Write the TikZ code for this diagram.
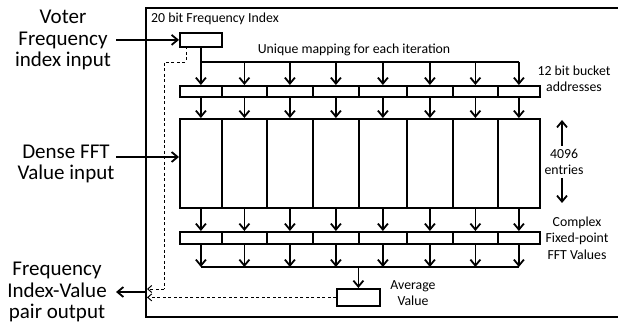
\documentclass[tikz,border=0pt]{standalone}
\usepackage{fontspec}
\setmainfont{Carlito}
\usetikzlibrary{arrows.meta}
\begin{document}
\begin{tikzpicture}[x=1pt,y=-1pt,
  solid line/.style={line width=1.8pt},
  arr/.style={solid line,-{Straight Barb[length=6pt,width=10pt,line width=1.8pt]}},
  darr/.style={line width=0.9pt,dash pattern=on 3pt off 2.5pt,-{Straight Barb[length=4pt,width=7pt,line width=1pt]}},
  dline/.style={line width=0.9pt,dash pattern=on 3pt off 2.5pt},
  cell/.style={draw,solid line,inner sep=0pt,minimum height=11pt,anchor=north west},
  big/.style={font=\fontsize{21}{21.5}\selectfont,align=center,inner sep=0pt},
  small/.style={font=\fontsize{13.8}{16.5}\selectfont,align=center,inner sep=0pt},
  side/.style={font=\fontsize{13.8}{16.5}\selectfont,align=center,inner sep=0pt}]
\useasboundingbox (0,0) rectangle (618,328);

% outer frame (its right side runs off the page edge)
\node[draw,solid line,inner sep=0pt,minimum width=473.3pt,minimum height=309pt,anchor=north west] (frame) at (145,7) {};

% index register
\node[cell,minimum width=42pt,minimum height=14pt] (idx) at (179,32) {};
\node[small,anchor=west] (idxlbl) at (151,19) {20 bit Frequency Index};
\node[small] (maplbl) at (354,50) {Unique mapping for each iteration};

% column boundaries
\def\xs{{179,221,266,312,358,406,452,497,539}}
\foreach \i in {0,...,7}{
  \pgfmathsetmacro\xa{\xs[\i]}
  \pgfmathsetmacro\xb{\xs[\i+1]}
  \pgfmathsetmacro\w{\xb-\xa}
  \node[cell,minimum width=\w pt] (addr\i) at (\xa,85) {};
  \node[cell,minimum width=\w pt,minimum height=89pt] (bank\i) at (\xa,118) {};
  \node[cell,minimum width=\w pt,minimum height=12pt] (val\i) at (\xa,231) {};
}

% top bus distributing the index
\coordinate (busL) at (addr0.north |- 0,62);
\coordinate (busR) at (addr7.north |- 0,62);
\draw[solid line] (idx.south -| busL) -- (busL) -- (busR);
\foreach \i in {0,...,7}{
  \draw[arr] (addr\i.north |- busL) -- (addr\i.north);
  \draw[arr] (addr\i.south) -- (bank\i.north);
  \draw[arr] (bank\i.south) -- (val\i.north);
}

% bottom bus collecting values
\coordinate (cbL) at (val0.south |- 0,267);
\coordinate (cbR) at (val7.south |- 0,267);
\draw[solid line] (cbL) -- (cbR);
\foreach \i in {0,...,7}{
  \draw[arr] (val\i.south) -- (val\i.south |- cbL);
}

% average register
\node[cell,minimum width=43pt,minimum height=17pt] (avg) at (336,288) {};
\coordinate (avgtap) at (avg.north |- cbL);
\draw[arr] (avgtap) -- (avg.north);
\node[side] (avglbl) at (413,293) {Average\\Value};

% dashed result paths to the frame edge
\coordinate (d1) at (186,46.5);
\coordinate (d2) at (186,62);
\coordinate (d3) at (164,62);
\coordinate (d4) at (164,289);
\coordinate (f1) at (frame.west |- d4);
\draw[dline] (d1) -- (d2) -- (d3) -- (d4);
\draw[darr] (d4) -- ([xshift=2pt]f1);
\coordinate (f2) at (frame.west |- avg.west);
\draw[darr] (avg.west) -- ([xshift=2pt]f2);

% external inputs and output
\node[big] (vin) at (63,40) {Voter\\Frequency\\index input};
\node[big] (din) at (66,164) {Dense FFT\\Value input};
\node[big] (pout) at (57,292) {Frequency\\Index-Value\\pair output};
\coordinate (vinE) at (116,40);
\coordinate (dinE) at (116,157);
\coordinate (poutE) at (116,292);
\draw[arr] (vinE) -- (idx.west);
\draw[arr] (dinE) -- (bank0.west |- dinE);
\draw[arr] (frame.west |- poutE) -- (poutE);

% right-hand annotations
\node[side] (addrlbl) at (574,79) {12 bit bucket\\addresses};
\node[side] (entlbl) at (564,162) {4096\\entries};
\coordinate (eu1) at (562,146);
\coordinate (eu2) at (562,120);
\coordinate (ed1) at (562,178);
\coordinate (ed2) at (562,203);
\draw[arr] (eu1) -- (eu2);
\draw[arr] (ed1) -- (ed2);
\node[side] (fftlbl) at (577,238) {Complex\\Fixed-point\\FFT Values};
\end{tikzpicture}
\end{document}
